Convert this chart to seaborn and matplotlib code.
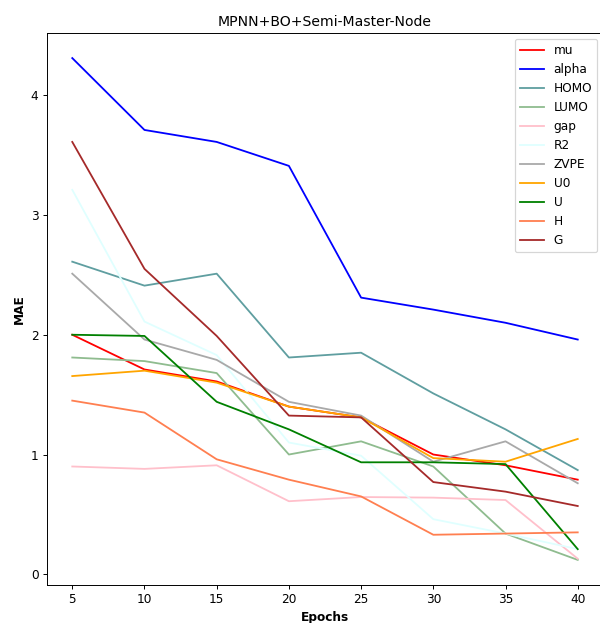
import matplotlib
matplotlib.use("Agg")
import matplotlib.pyplot as plt
import seaborn as sns
import pandas as pd

epochs = [5, 10, 15, 20, 25, 30, 35, 40]
mu = [2.00, 1.71, 1.61, 1.40, 1.31, 1.00, 0.91, 0.79]
alpha = [4.31, 3.71, 3.61, 3.41, 2.31, 2.21, 2.10, 1.96]
homo = [2.61, 2.41, 2.51, 1.81, 1.85, 1.51, 1.21, 0.87]
lumo = [1.81, 1.78, 1.68, 1.00, 1.11, 0.90, 0.34, 0.12]
gap = [0.90, 0.88, 0.91, 0.61, 0.645, 0.64, 0.62, 0.13]
r2 = [3.21, 2.11, 1.83, 1.10, 0.99, 0.46, 0.34, 0.21]
zvpe = [2.51, 1.96, 1.79, 1.44, 1.325, 0.94, 1.11, 0.76]
u0 = [1.655, 1.70, 1.60, 1.40, 1.31, 0.97, 0.94, 1.13]
u = [2.00, 1.99, 1.44, 1.21, 0.935, 0.935, 0.92, 0.21]
h = [1.45, 1.35, 0.96, 0.79, 0.65, 0.33, 0.34, 0.35]
g = [3.61, 2.55, 1.99, 1.325, 1.31, 0.77, 0.69, 0.57]

names = ["mu", "alpha", "HOMO", "LUMO", "gap", "R2", "ZVPE", "U0", "U", "H", "G"]
series = [mu, alpha, homo, lumo, gap, r2, zvpe, u0, u, h, g]
colors = ["red", "blue", "cadetblue", "darkseagreen", "pink", "lightcyan",
          "darkgray", "orange", "green", "coral", "brown"]

rows = []
for name, vals in zip(names, series):
    for e, v in zip(epochs, vals):
        rows.append({"Epochs": e, "MAE": v, "target": name})
df = pd.DataFrame(rows)

DPI = 87
fig = plt.figure(figsize=(600 / DPI, 623 / DPI), dpi=DPI)
ax = fig.add_axes([47/600, 1 - 585/623, 556/600, (585 - 33)/623])
sns.lineplot(data=df, x="Epochs", y="MAE", hue="target", hue_order=names,
             palette=dict(zip(names, colors)), ax=ax, linewidth=1.5)

ax.set_title("MPNN+BO+Semi-Master-Node", fontsize=11.6)
ax.set_xlabel("Epochs", fontweight="bold")
ax.set_ylabel("MAE", fontweight="bold")
ax.set_xticks(epochs)
ax.set_yticks([0, 1, 2, 3, 4])
handles, labels = ax.get_legend_handles_labels()
ax.legend(handles, labels, loc="upper right")

fig.savefig("out.png", dpi=DPI)
